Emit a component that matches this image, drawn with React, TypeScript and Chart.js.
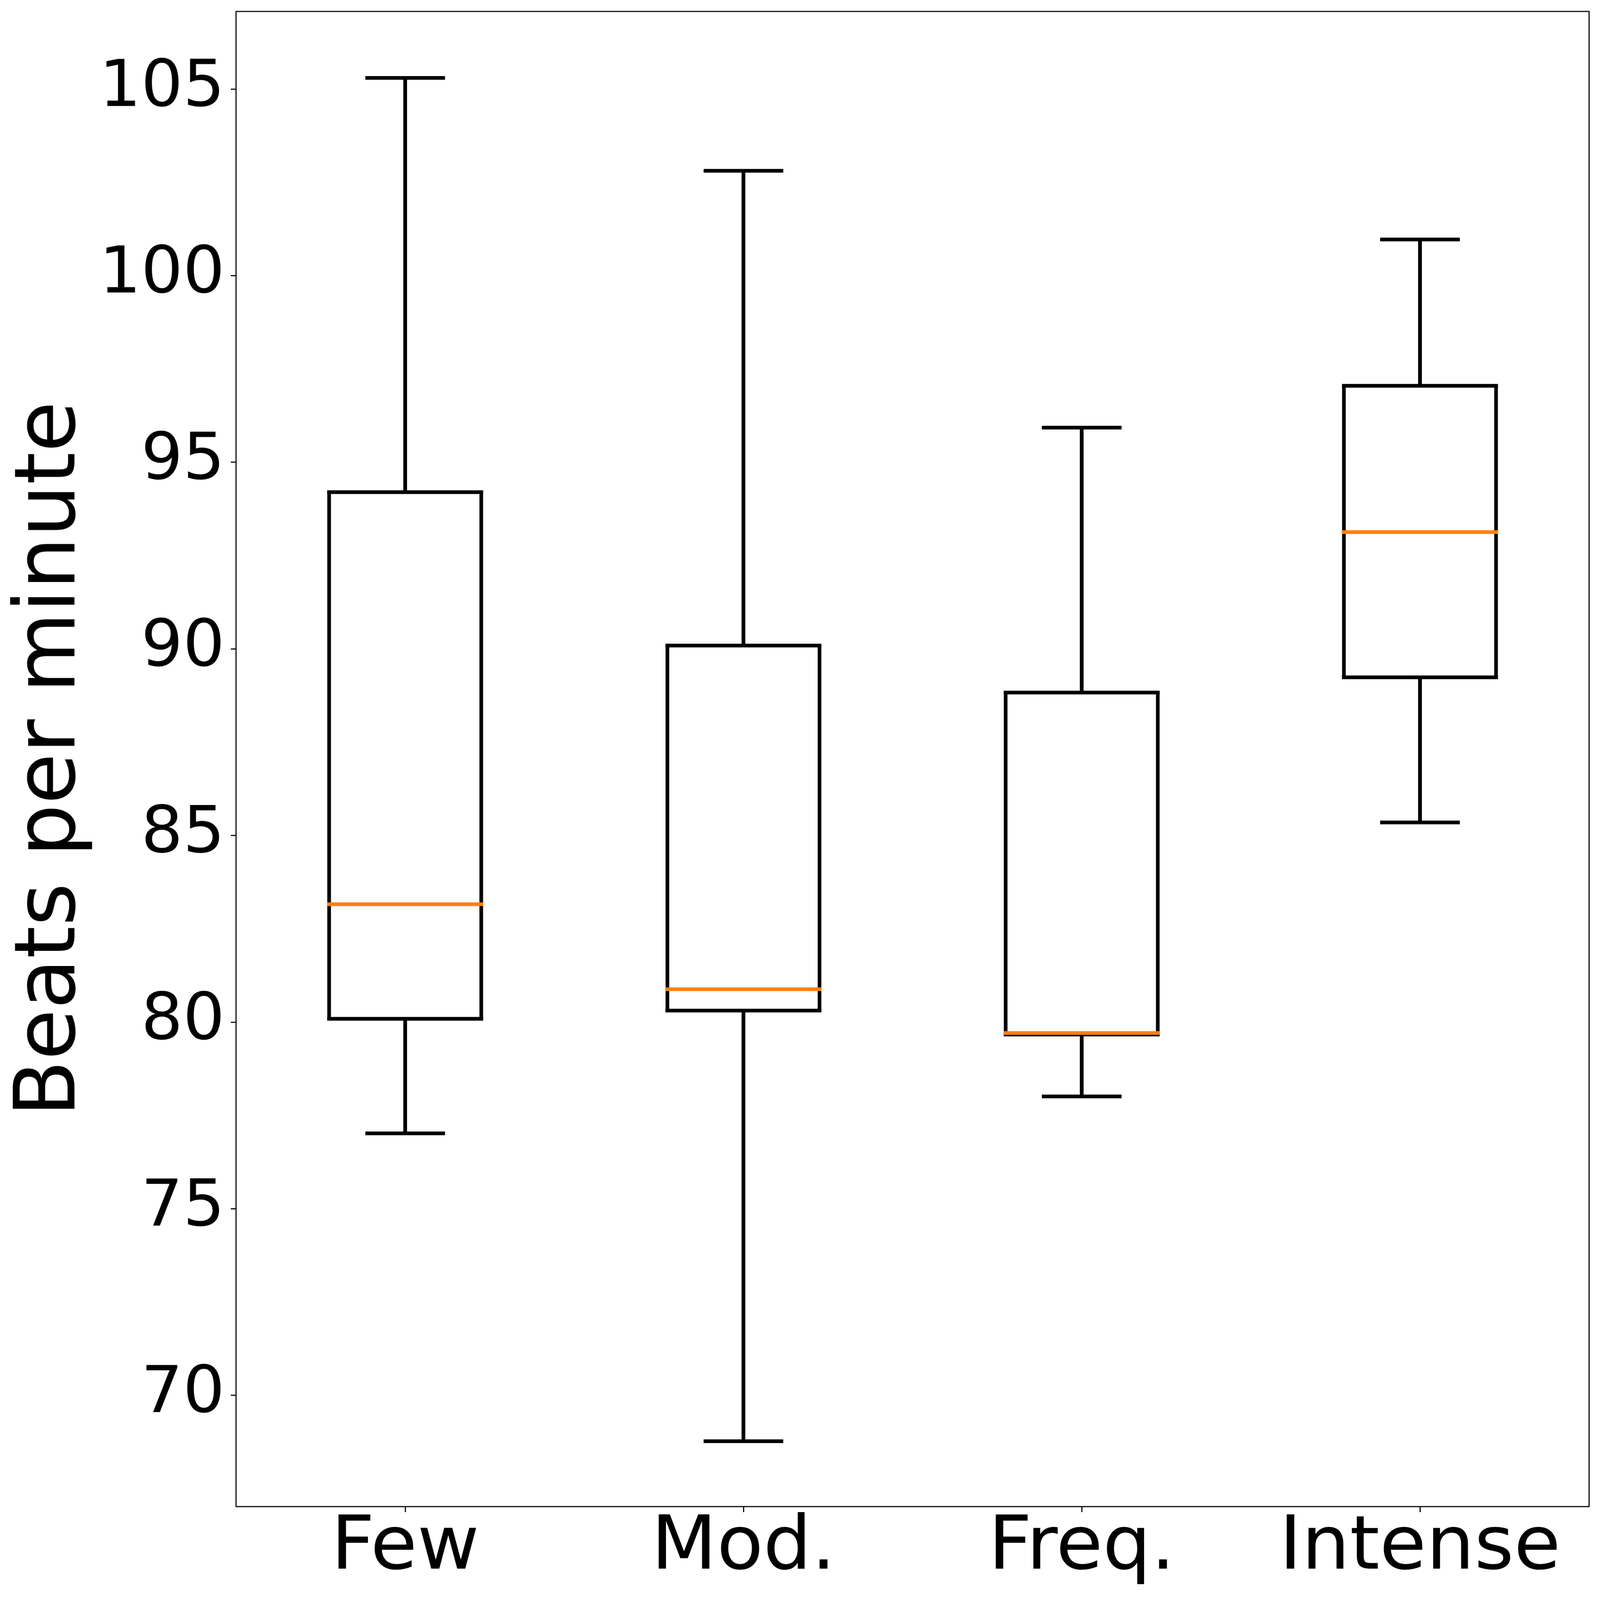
import { useEffect, useRef } from 'react';
import { Chart, registerables } from 'chart.js';

Chart.register(...registerables);

const categories = ['Few', 'Mod.', 'Freq.', 'Intense'];
const whiskerLow = [77.02, 68.77, 78.01, 85.35];
const q1 = [80.09, 80.31, 79.67, 89.24];
const median = [83.16, 80.88, 79.71, 93.13];
const q3 = [94.2, 90.09, 88.83, 97.05];
const whiskerHigh = [105.3, 102.81, 95.93, 100.97];

const yMin = 67.02;
const yMax = 107.08;
const yStep = 5;
const yTitle = 'Beats per minute';

const FONT = "'DejaVu Sans'";
const W = 4257;
const H = 4333;

function zeroPadding(s: any) {
  s.paddingTop = 0;
  s.paddingBottom = 0;
  s.paddingLeft = 0;
  s.paddingRight = 0;
}

export default function App() {
  const ref = useRef<HTMLCanvasElement>(null);
  const vw = typeof window !== 'undefined' ? window.innerWidth : W;
  const vh = typeof window !== 'undefined' ? window.innerHeight : H;

  useEffect(() => {
    if (!ref.current) return;
    document.body.style.margin = '0';
    const frame = {
      id: 'frame',
      afterDatasetsDraw(chart: any) {
        const { ctx, chartArea: a } = chart;
        ctx.save();
        ctx.strokeStyle = '#000';
        ctx.lineWidth = 3;
        ctx.strokeRect(a.left, a.top, a.right - a.left, a.bottom - a.top);
        ctx.restore();
      },
    };

    const pointLine = (label: string, data: number[], radius: number, color: string, order: number) => ({
      type: 'line' as const,
      label,
      data,
      showLine: false,
      pointStyle: 'line',
      pointRadius: radius,
      pointHoverRadius: radius,
      pointBorderWidth: 10,
      pointHoverBorderWidth: 10,
      pointBorderColor: color,
      pointBackgroundColor: color,
      order,
    });

    const chart = new Chart(ref.current, {
      type: 'bar',
      data: {
        labels: categories,
        datasets: [
          {
            type: 'bar',
            label: 'box',
            data: categories.map((_, i) => [q1[i], q3[i]]),
            backgroundColor: 'rgba(0,0,0,0)',
            borderColor: '#000',
            borderWidth: { left: 10, right: 10, top: 0, bottom: 0 },
            borderSkipped: false,
            barThickness: 415,
            grouped: false,
            inflateAmount: 0,
            order: 6,
          } as any,
          {
            type: 'bar',
            label: 'upper whisker',
            data: categories.map((_, i) => [q3[i], whiskerHigh[i]]),
            backgroundColor: '#000',
            borderWidth: 0,
            barThickness: 10,
            grouped: false,
            inflateAmount: 0,
            order: 5,
          } as any,
          {
            type: 'bar',
            label: 'lower whisker',
            data: categories.map((_, i) => [whiskerLow[i], q1[i]]),
            backgroundColor: '#000',
            borderWidth: 0,
            barThickness: 10,
            grouped: false,
            inflateAmount: 0,
            order: 5,
          } as any,
          pointLine('Q1', q1, 207.5, '#000', 3) as any,
          pointLine('Q3', q3, 207.5, '#000', 3) as any,
          pointLine('cap high', whiskerHigh, 106, '#000', 2) as any,
          pointLine('cap low', whiskerLow, 106, '#000', 2) as any,
          pointLine('median', median, 207.5, '#ff7f0e', 0) as any,
        ],
      },
      options: {
        responsive: false,
        maintainAspectRatio: false,
        animation: false,
        devicePixelRatio: 1,
        events: [],
        layout: { autoPadding: false, padding: { top: 31, right: 29, left: 0, bottom: 0 } },
        plugins: {
          legend: { display: false },
          tooltip: { enabled: false },
        },
        scales: {
          x: {
            type: 'category',
            offset: true,
            grid: {
              offset: false,
              drawOnChartArea: false,
              drawTicks: true,
              tickLength: 15,
              tickWidth: 3,
              tickColor: '#000',
            },
            border: { display: false },
            ticks: {
              font: { family: FONT, size: 202, lineHeight: 1 },
              color: '#000',
              padding: 0,
              maxRotation: 0,
              minRotation: 0,
              autoSkip: false,
            },
            afterFit: (s: any) => {
              s.height = 253;
              zeroPadding(s);
            },
          },
          y: {
            type: 'linear',
            min: yMin,
            max: yMax,
            grid: {
              drawOnChartArea: false,
              drawTicks: true,
              tickLength: 14,
              tickWidth: 3,
              tickColor: '#000',
            },
            border: { display: false },
            ticks: {
              stepSize: yStep,
              includeBounds: false,
              font: { family: FONT, size: 175, lineHeight: 1 },
              color: '#000',
              padding: 16,
              callback: (v: any) => String(v),
            },
            title: {
              display: true,
              text: yTitle,
              color: '#000',
              font: { family: FONT, size: 224, lineHeight: 1 },
              padding: { top: 28, bottom: 0 },
            },
            afterFit: (s: any) => {
              s.width = 628;
              zeroPadding(s);
            },
          },
        },
      } as any,
      plugins: [frame],
    });
    return () => chart.destroy();
  }, []);

  return (
    <div style={{ position: 'fixed', left: 0, top: 0, width: vw, height: vh, background: '#fff', margin: 0, padding: 0, overflow: 'hidden' }}>
      <canvas ref={ref} width={W} height={H} style={{ width: vw + 'px', height: vh + 'px', display: 'block' }} />
    </div>
  );
}
